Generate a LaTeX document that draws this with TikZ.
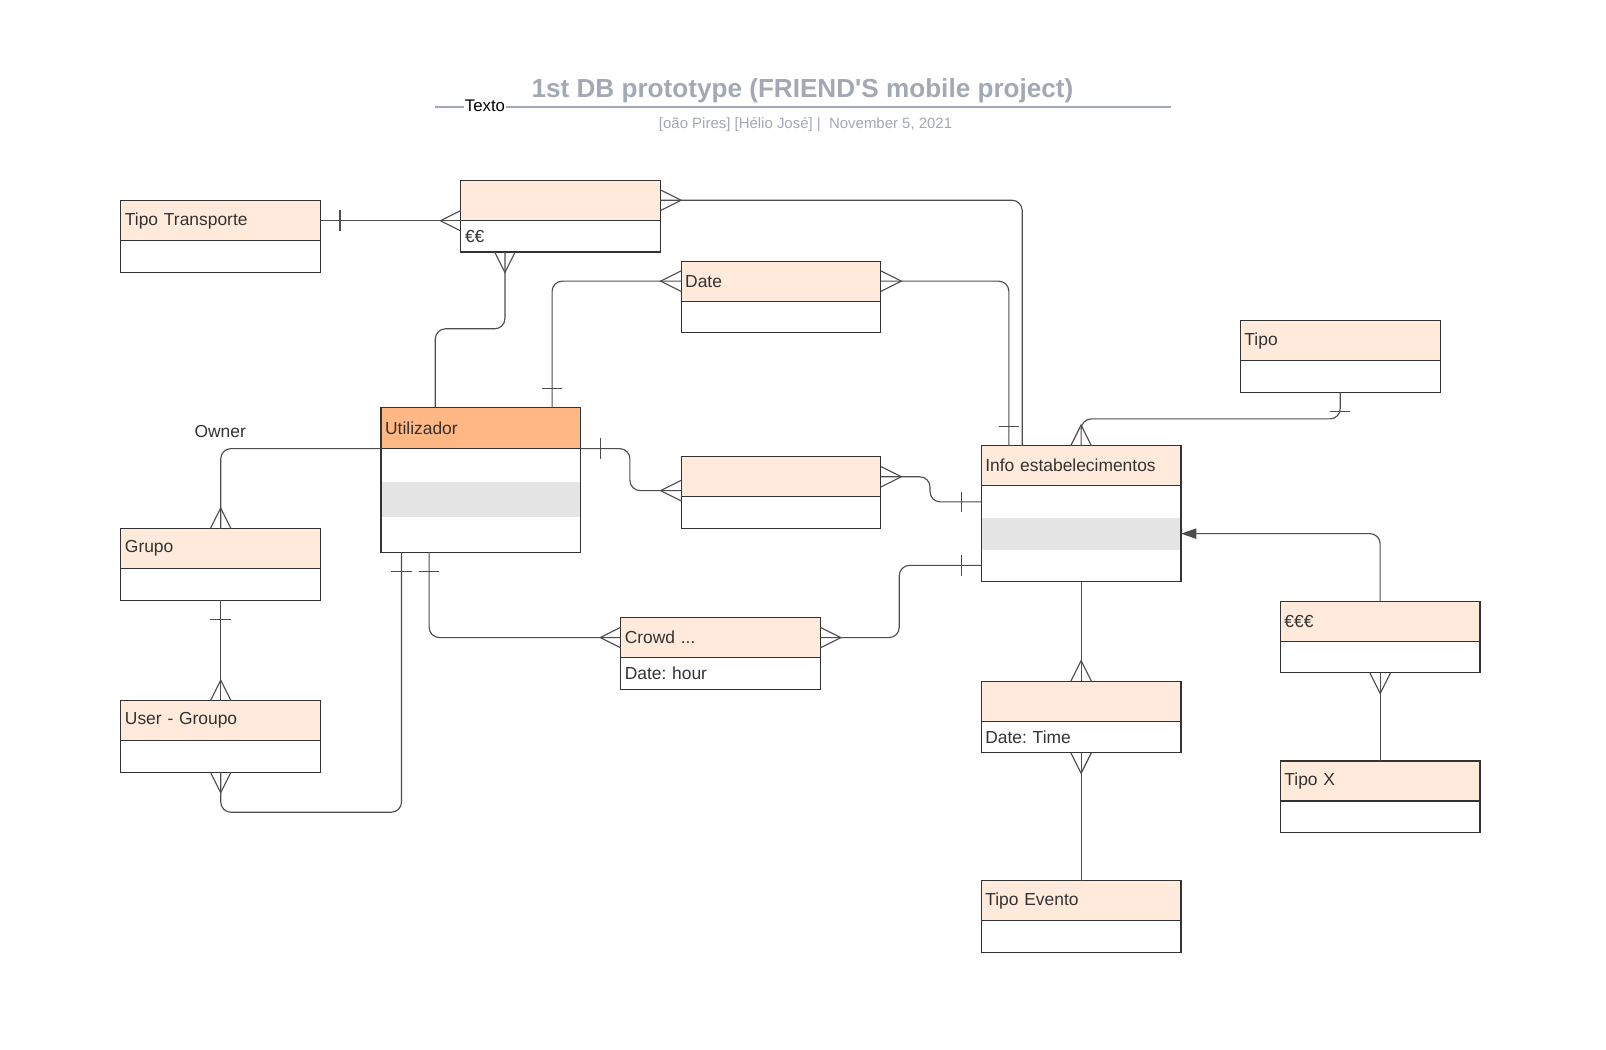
\documentclass[tikz,border=0pt]{standalone}
\usepackage{fontspec}
\setmainfont{Liberation Sans}
\usetikzlibrary{positioning,calc,arrows.meta}
\frenchspacing

\definecolor{peach}{HTML}{FFEADC}
\definecolor{utorange}{HTML}{FFB784}
\definecolor{rowgray}{HTML}{E5E5E5}
\definecolor{titlegray}{HTML}{A3A9B4}
\definecolor{ink}{HTML}{333333}
\definecolor{wirecol}{HTML}{4D4D4D}

% crow's foot and single bar marks, angle points away from the entity
\newcommand{\crowft}[2]{\draw[wirecol,line width=1.1pt,shift={#1},rotate=#2] (0pt,-10pt) -- (20pt,0pt) -- (0pt,10pt);}
\newcommand{\onebar}[2]{\draw[wirecol,line width=1.1pt,shift={#1},rotate=#2] (19pt,-10pt) -- (19pt,10pt);}

\begin{document}
\begin{tikzpicture}[x=1pt,y=-1pt,
  head/.style={draw=ink,fill=peach,line width=1.1pt,outer sep=0pt,inner xsep=4pt,
    text width=187pt,align=left,minimum height=39pt,text=ink,font=\fontsize{17}{20}\selectfont},
  body/.style={head,fill=white,minimum height=31pt},
  conn/.style={draw=wirecol,line width=1.1pt,rounded corners=10pt}]
\useasboundingbox[fill=white] (0,0) rectangle (1568,1025);

% title
\coordinate (tl) at (425,104.5);
\coordinate (tr) at (1143,104.5);
\draw[titlegray,line width=2pt] (tl) -- (tr);
\node[fill=white,inner sep=1pt,font=\fontsize{16.4}{20}\selectfont] (texto) at (473.5,103) {Texto};
\node[text=titlegray,font=\bfseries\fontsize{25.5}{30}\selectfont] (title) at (783.5,89) {1st DB prototype (FRIEND{\textquotesingle}S mobile project)};
\node[text=titlegray,font=\fontsize{14.6}{17}\selectfont] (subtitle) at (786.5,121.5) {[oão Pires] [Hélio José] |~ November 5, 2021};

% entities
\node[head] (tt) at (215.5,215.5) {Tipo Transporte};
\node[body,below=0pt of tt] (ttb) {};
\node[head] (pr) at (547.5,195.5) {};
\node[body,below=0pt of pr] (prb) {€€};
\node[head] (dt) at (762.5,274.5) {Date};
\node[body,below=0pt of dt] (dtb) {};
\node[head] (tp) at (1308.5,332.5) {Tipo};
\node[body,below=0pt of tp] (tpb) {};
\node[head,fill=utorange,minimum height=40pt] (ut) at (469.5,418) {Utilizador};
\node[body,below=0pt of ut,minimum height=101pt] (utb) {};
\fill[rowgray] ($(utb.north west)+(0.6,33)$) rectangle ($(utb.north east)+(-0.6,67)$);
\node[head] (mid) at (762.5,465.5) {};
\node[body,below=0pt of mid] (midb) {};
\node[head] (ie) at (1055.5,454.5) {Info estabelecimentos};
\node[body,below=0pt of ie,minimum height=94pt] (ieb) {};
\fill[rowgray] ($(ieb.north west)+(0.6,32)$) rectangle ($(ieb.north east)+(-0.6,63)$);
\node[head] (gr) at (215.5,535.5) {Grupo};
\node[body,below=0pt of gr] (grb) {};
\node[head] (cr) at (703.5,622.5) {Crowd ...};
\node[body,below=0pt of cr] (crb) {Date: hour};
\node[head] (eu) at (1347.5,606.5) {€€€};
\node[body,below=0pt of eu] (eub) {};
\node[head] (ug) at (215.5,703.5) {User - Groupo};
\node[body,below=0pt of ug] (ugb) {};
\node[head] (ev) at (1055.5,684.5) {};
\node[body,below=0pt of ev] (evb) {Date: Time};
\node[head] (tx) at (1347.5,762.5) {Tipo X};
\node[body,below=0pt of tx] (txb) {};
\node[head] (te) at (1055.5,879.5) {Tipo Evento};
\node[body,below=0pt of te] (teb) {};

\node[text=ink,font=\fontsize{17}{20}\selectfont] (owner) at (215,421) {Owner};

% connection points
\coordinate (prin) at (tt.east -| pr.west);
\coordinate (prdn) at ($(prb.south west)+(43,0)$);
\coordinate (utpr) at ($(ut.north west)+(53,0)$);
\coordinate (utdt) at ($(ut.north west)+(167,0)$);
\coordinate (iepr) at ($(ie.north west)+(40,0)$);
\coordinate (iedt) at ($(ie.north west)+(27,0)$);
\coordinate (midin) at ($(mid.south west)+(0,-6)$);
\coordinate (iemid) at ($(ieb.north west)+(0,16)$);
\coordinate (iecr) at ($(ieb.south west)+(0,-16)$);
\coordinate (ieeu) at ($(ieb.north east)+(0,47)$);
\coordinate (utug) at ($(utb.south west)+(20,0)$);
\coordinate (utcr) at ($(utb.south west)+(47,0)$);

% connectors
\draw[conn] (tt.east) -- (prin);
\onebar{(tt.east)}{0} \crowft{(prin)}{180}
\draw[conn] (prdn) -- ++(0,75) -| (utpr);
\crowft{(prdn)}{270}
\draw[conn] (pr.east) -| (iepr);
\crowft{(pr.east)}{0}
\draw[conn] (dt.west) -| (utdt);
\crowft{(dt.west)}{180} \onebar{(utdt)}{90}
\draw[conn] (dt.east) -| (iedt);
\crowft{(dt.east)}{0} \onebar{(iedt)}{90}
\draw[conn] (tpb.south) -- ++(0,26) -| (ie.north);
\onebar{(tpb.south)}{270} \crowft{(ie.north)}{90}
\draw[conn] (ut.south east) -- ++(48,0) |- (midin);
\onebar{(ut.south east)}{0} \crowft{(midin)}{180}
\draw[conn] (mid.east) -- ++(48,0) |- (iemid);
\crowft{(mid.east)}{0} \onebar{(iemid)}{180}
\draw[conn] (ut.south west) -| (gr.north);
\crowft{(gr.north)}{90}
\draw[conn] (grb.south) -- (ug.north);
\onebar{(grb.south)}{270} \crowft{(ug.north)}{90}
\draw[conn] (ugb.south) -- ++(0,39) -| (utug);
\crowft{(ugb.south)}{270} \onebar{(utug)}{270}
\draw[conn] (utcr) |- (cr.west);
\onebar{(utcr)}{270} \crowft{(cr.west)}{180}
\draw[conn] (cr.east) -- ++(77,0) |- (iecr);
\crowft{(cr.east)}{0} \onebar{(iecr)}{180}
\draw[conn] (ieb.south) -- (ev.north);
\crowft{(ev.north)}{90}
\draw[conn] (evb.south) -- (te.north);
\crowft{(evb.south)}{270}
\draw[conn] (eub.south) -- (tx.north);
\crowft{(eub.south)}{270}
\draw[conn,-{Triangle[length=15pt,width=10pt]}] (eu.north) |- (ieeu);
\end{tikzpicture}
\end{document}
